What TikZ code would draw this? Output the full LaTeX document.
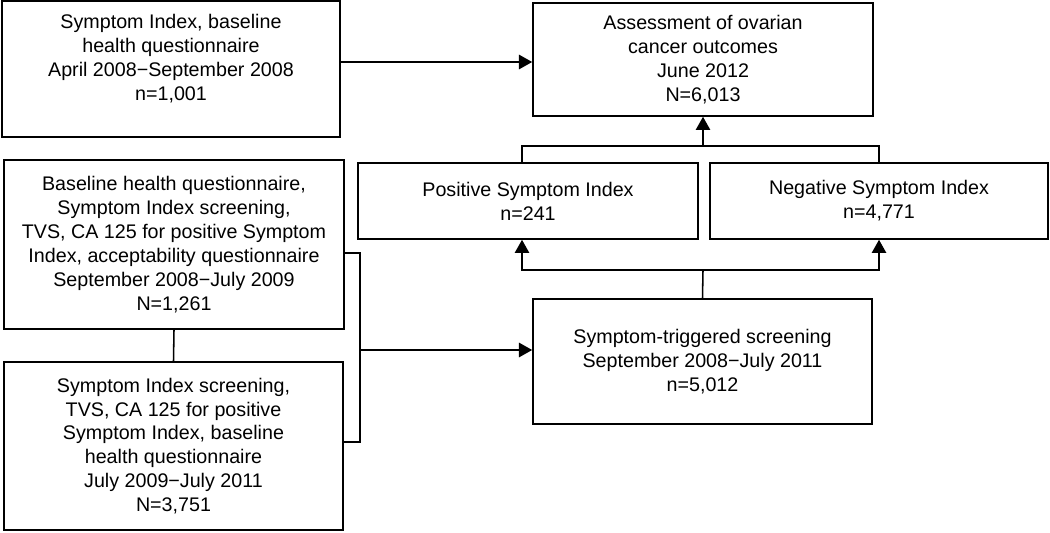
\documentclass[tikz,border=0pt]{standalone}
\usepackage{fontspec}
\setmainfont{Liberation Sans}
\usepackage{tikz}
\usetikzlibrary{arrows.meta, calc, positioning}

\begin{document}
\begin{tikzpicture}[x=0.025cm, y=-0.025cm,
        box/.style={draw, line width=1.1pt, align=center, inner sep=2pt,
            font=\fontsize{14pt}{17pt}\selectfont},
        link/.style={line width=1.1pt},
        arr/.style={line width=1.1pt, -{Triangle[length=3.3mm, width=3.6mm]}}]
    \useasboundingbox (0,0) rectangle (1050,532);

    \node[box, minimum width=8.45cm, minimum height=3.4cm] (base) at (171, 69)
        {Symptom Index, baseline\\ health questionnaire\\ April 2008−September 2008\\ n=1,001\\ ~};
    \node[box, minimum width=8.5cm, minimum height=2.825cm] (outcome) at (703, 59.5)
        {Assessment of ovarian\\ cancer outcomes\\ June 2012\\ N=6,013};
    \node[box, minimum width=8.5cm, minimum height=1.9cm] (pos) at (528, 201)
        {Positive Symptom Index\\ n=241};
    \node[box, minimum width=8.45cm, minimum height=1.9cm] (neg) at (879, 201)
        {Negative Symptom Index\\ n=4,771};
    \node[box, minimum width=8.5cm, minimum height=4.225cm] (phase1) at (174, 244.5)
        {Baseline health questionnaire,\\ Symptom Index screening,\\ TVS, CA 125 for positive Symptom\\ Index, acceptability questionnaire\\ September 2008−July 2009\\ N=1,261};
    \node[box, minimum width=8.475cm, minimum height=4.2cm] (phase2) at (173.5, 446)
        {Symptom Index screening,\\ TVS, CA 125 for positive\\ Symptom Index, baseline\\ health questionnaire\\ July 2009−July 2011\\ N=3,751};
    \node[box, minimum width=8.475cm, minimum height=3.125cm] (trig) at (702.5, 361.5)
        {Symptom-triggered screening\\ September 2008−July 2011\\ n=5,012};

    \coordinate (upjoin) at (703, 146);
    \coordinate (downjoin) at (703, 270);
    \coordinate (merge) at (360, 350);

    % baseline to outcomes
    \draw[arr] ([yshift=1.75mm]base.east) -- ([yshift=1.75mm]base.east -| outcome.west);

    % index results to outcomes
    \draw[link] ([xshift=-1.5mm]pos.north) |- (upjoin) -| (neg.north);
    \draw[arr] (upjoin) -- (outcome.south);

    % screening to index results
    \draw[link] (trig.north) -- (downjoin);
    \draw[arr] (downjoin) -| ([xshift=-1.5mm]pos.south);
    \draw[arr] (downjoin) -| (neg.south);

    % the two phases
    \draw[link] (phase1.south) -- (phase2.north);
    \draw[link] ([yshift=-2.1mm]phase1.east) -| (merge) |- ([yshift=1mm]phase2.east);
    \draw[arr] (merge) -- (merge -| trig.west);
\end{tikzpicture}
\end{document}
